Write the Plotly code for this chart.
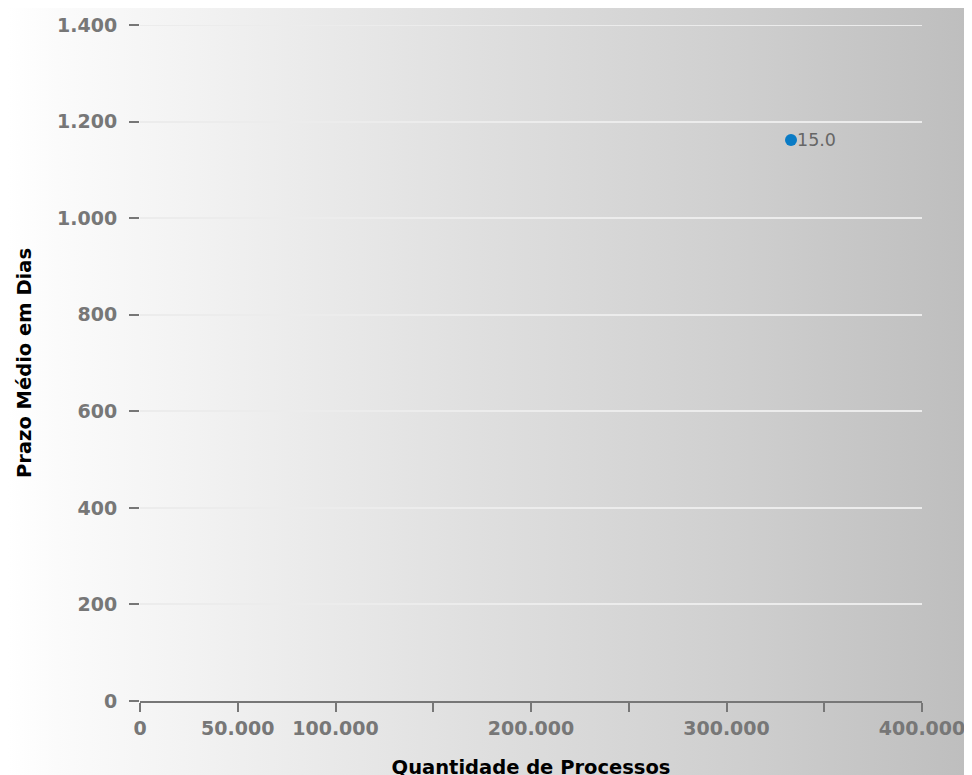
import base64
import plotly.graph_objects as go

# Data
quantidade = [333000]
prazo_medio = [1162]
rotulos = ["15.0"]

x_tickvals = [0, 50000, 100000, 150000, 200000, 250000, 300000, 350000, 400000]
x_ticktext = ["0", "50.000", "100.000", "", "200.000", "", "300.000", "", "400.000"]
y_tickvals = [0, 200, 400, 600, 800, 1000, 1200, 1400]
y_ticktext = ["0", "200", "400", "600", "800", "1.000", "1.200", "1.400"]

W, H = 972, 775
ML, MR, MT, MB = 132, 58, 17, 82
PW, PH = W - ML - MR, H - MT - MB

svg = (
    '<svg xmlns="http://www.w3.org/2000/svg" width="972" height="775" '
    'viewBox="0 0 972 775" preserveAspectRatio="none">'
    '<defs><linearGradient id="g" x1="0" y1="0" x2="1" y2="0">'
    '<stop offset="0" stop-color="#ffffff"/>'
    '<stop offset="0.05" stop-color="#fbfbfb"/>'
    '<stop offset="0.15" stop-color="#f5f5f5"/>'
    '<stop offset="0.5" stop-color="#dedede"/>'
    '<stop offset="0.75" stop-color="#cfcfcf"/>'
    '<stop offset="1" stop-color="#bdbdbd"/>'
    '</linearGradient></defs>'
    '<rect x="0" y="0" width="972" height="775" fill="url(#g)"/></svg>'
)
src = "data:image/svg+xml;base64," + base64.b64encode(svg.encode()).decode()

fig = go.Figure()
fig.add_trace(go.Scatter(
    x=quantidade, y=prazo_medio, mode="markers",
    marker=dict(color="#0a7bc5", size=12),
    cliponaxis=False, hoverinfo="x+y",
))
for xv, yv, t in zip(quantidade, prazo_medio, rotulos):
    fig.add_annotation(
        x=xv, y=yv, text=t, showarrow=False, xanchor="left", yanchor="middle",
        xshift=4, yshift=0,
        font=dict(family="DejaVu Sans", size=17.5, color="#666666"),
    )

# top gridline (plotly omits the gridline at the range edge)
fig.add_shape(
    type="line", xref="paper", yref="y", x0=0, x1=1,
    y0=y_tickvals[-1], y1=y_tickvals[-1],
    line=dict(color="#ececec", width=2), layer="below",
)

fig.update_layout(
    width=W, height=H,
    margin=dict(l=ML, r=MR, t=MT, b=MB),
    paper_bgcolor="white",
    plot_bgcolor="rgba(0,0,0,0)",
    showlegend=False,
    separators=",.",
    images=[dict(
        source=src, xref="paper", yref="paper",
        x=-ML / PW, y=1 + MT / PH, sizex=W / PW, sizey=H / PH,
        xanchor="left", yanchor="top", sizing="stretch", layer="below",
    )],
    font=dict(family="DejaVu Sans"),
)

fig.update_xaxes(
    range=[0, 400000], tickvals=x_tickvals, ticktext=x_ticktext,
    showgrid=False, zeroline=False,
    showline=True, linecolor="#777777", linewidth=2,
    ticks="outside", ticklen=9, tickwidth=2, tickcolor="#777777",
    tickfont=dict(family="DejaVu Sans", size=19, color="#777777", weight="bold"),
    title=dict(text="Quantidade de Processos", standoff=23,
               font=dict(family="DejaVu Sans", size=19.5, color="#000000", weight="bold")),
    automargin=False,
)
fig.update_yaxes(
    range=[0, 1400], tickvals=y_tickvals, ticktext=y_ticktext,
    showgrid=True, gridcolor="#ececec", gridwidth=2,
    zeroline=False, showline=False,
    ticks="outside", ticklen=10, tickwidth=2, tickcolor="#777777",
    ticklabelstandoff=8,
    tickfont=dict(family="DejaVu Sans", size=19, color="#777777", weight="bold"),
    title=dict(text="Prazo Médio em Dias", standoff=20,
               font=dict(family="DejaVu Sans", size=19.5, color="#000000", weight="bold")),
    automargin=False,
)

fig.write_html("out.html")
